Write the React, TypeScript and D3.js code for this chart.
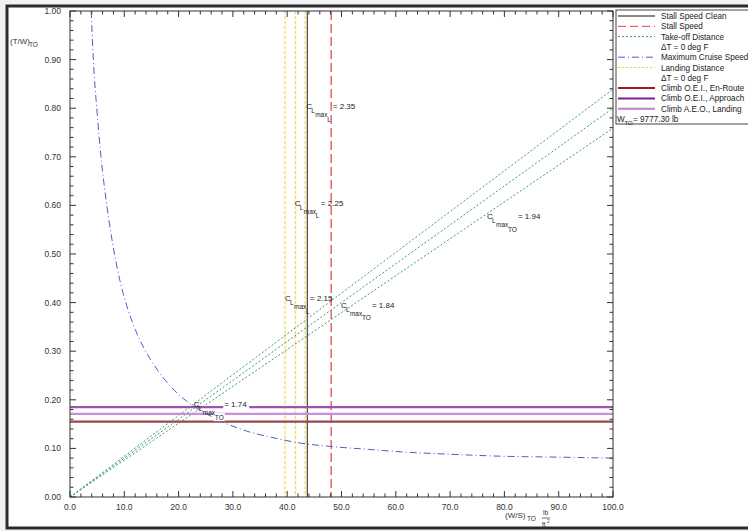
import React from "react";
import * as d3 from "d3";

const W = 748;
const H = 531;

const xTickValues = [0, 10, 20, 30, 40, 50, 60, 70, 80, 90, 100];
const yTickValues = [0, 0.1, 0.2, 0.3, 0.4, 0.5, 0.6, 0.7, 0.8, 0.9, 1.0];

const stallSpeedClean = 43.7;
const stallSpeed = 48.1;
const landingDistance = [39.6, 41.5, 43.3];
// take-off distance lines: T/W at W/S = 100 (lines start at origin)
const takeoffEndWS = 100;
const takeoffEndTW = [0.839, 0.8, 0.759];

const cruiseWS = [3.9, 4.3, 5.0, 5.8, 6.6, 7.8, 9.2, 10.5, 12.0, 14.7, 17.0, 19.9, 22.1, 25.0, 28.0, 33.0, 37.0, 42.4, 48.0, 55.0, 60.8, 70.0, 79.2, 90.0, 100.0];
const cruiseTW = [1.0, 0.9, 0.79, 0.69, 0.615, 0.525, 0.445, 0.392, 0.345, 0.285, 0.248, 0.212, 0.192, 0.172, 0.155, 0.134, 0.123, 0.111, 0.104, 0.098, 0.093, 0.088, 0.084, 0.082, 0.08];

const climbNames = ["Climb O.E.I., En-Route", "Climb O.E.I., Approach", "Climb A.E.O., Landing"];
const climbValues = [0.155, 0.185, 0.171];
const climbColors = ["#984848", "#a050b0", "#c890d8"];
const climbLegendColors = ["#a01c1c", "#7a2288", "#c07ed0"];

// annotation anchors (data coords) and texts
const annX = [43.5, 41.4, 39.6, 49.9, 76.8, 22.8];
const annY = [0.798, 0.599, 0.403, 0.389, 0.572, 0.185];
const annValX = [48.4, 46.2, 44.2, 55.6, 82.5, 28.4];
const annSub = ["L", "L", "L", "TO", "TO", "TO"];
const annVal = ["= 2.35", "= 2.25", "= 2.15", "= 1.84", "= 1.94", "= 1.74"];

const legendLabels = [
  "Stall Speed Clean",
  "Stall Speed",
  "Take-off Distance",
  "\u0394T = 0 deg F",
  "Maximum Cruise Speed",
  "Landing Distance",
  "\u0394T = 0 deg F",
  climbNames[0],
  climbNames[1],
  climbNames[2],
];

const FONT = "Arial, 'Liberation Sans', sans-serif";

export default function App() {
  const x = d3.scaleLinear().domain([0, 100]).range([70, 613]);
  const y = d3.scaleLinear().domain([0, 1]).range([497, 11]);
  const x0 = x(0), x1 = x(100), y0 = y(0), y1 = y(1);

  const xMinor = d3.range(0, 100.001, 2);
  const yMinor = d3.range(0, 1.0001, 0.02);

  const cruisePts: [number, number][] = cruiseWS.map((w, i) => [w, cruiseTW[i]]);
  const cruiseLine = d3
    .line<[number, number]>()
    .x((d) => x(d[0]))
    .y((d) => y(d[1]))
    .curve(d3.curveMonotoneX);

  const axisColor = "#333";
  const textColor = "#333";

  const legendStyles = [
    { stroke: "#111", dash: "", w: 1 },
    { stroke: "#e03a3a", dash: "8,4", w: 1 },
    { stroke: "#3d9a78", dash: "2,2", w: 1 },
    null,
    { stroke: "#4a5ed0", dash: "7,3,1,3", w: 1 },
    { stroke: "#e8d24a", dash: "2,2", w: 1 },
    null,
    { stroke: climbLegendColors[0], dash: "", w: 2 },
    { stroke: climbLegendColors[1], dash: "", w: 2 },
    { stroke: climbLegendColors[2], dash: "", w: 2 },
  ];

  return (
    <svg
      width={W}
      height={H}
      style={{ position: "absolute", left: 0, top: 0, background: "#f2f2f2" }}
      fontFamily={FONT}
    >
      <defs>
        <clipPath id="plotclip">
          <rect x={x0} y={y1} width={x1 - x0} height={y0 - y1} />
        </clipPath>
      </defs>
      {/* outer frame */}
      <rect x={7} y={6} width={W} height={522} fill="#fff" stroke="#2b2b2b" strokeWidth={3} />

      {/* plot content */}
      <g clipPath="url(#plotclip)">
        {/* landing distance verticals */}
        {landingDistance.map((v, i) => (
          <g key={"ld" + i}>
            <line x1={x(v)} x2={x(v)} y1={y1} y2={y0} stroke="#fdfaea" strokeWidth={3} />
            <line x1={x(v)} x2={x(v)} y1={y1} y2={y0} stroke="#ecd860" strokeWidth={1} strokeDasharray="3,2" />
          </g>
        ))}
        {/* stall speed clean */}
        <line x1={x(stallSpeedClean)} x2={x(stallSpeedClean)} y1={y1} y2={y0} stroke="#222" strokeWidth={1} />
        {/* stall speed */}
        <line x1={x(stallSpeed)} x2={x(stallSpeed)} y1={y1} y2={y0} stroke="#e86464" strokeWidth={1.5} strokeDasharray="9,4" />

        {/* take-off distance lines */}
        {takeoffEndTW.map((t, i) => (
          <line
            key={"to" + i}
            x1={x(0)}
            y1={y(0)}
            x2={x(takeoffEndWS)}
            y2={y(t)}
            stroke="#3d9a78"
            strokeWidth={1}
            strokeDasharray="2,2"
          />
        ))}

        {/* climb lines */}
        {climbValues.map((v, i) => (
          <line key={"cl" + i} x1={x0} x2={x1} y1={y(v)} y2={y(v)} stroke={climbColors[i]} strokeWidth={2.2} />
        ))}

        {/* cruise curve */}
        <path d={cruiseLine(cruisePts) || ""} fill="none" stroke="#4a5ed0" strokeWidth={1} strokeDasharray="7,3,1,3" />
      </g>

      {/* annotations */}
      {annX.map((ax, i) => {
        const px = x(ax);
        const py = y(annY[i]);
        const vx = x(annValX[i]);
        return (
          <g key={"ann" + i} fill="#222">
            {i === 5 && (
              <>
                <rect x={vx - 1} y={py - 8} width={26} height={10} fill="#fff" />
                <rect x={px + 20} y={py + 6} width={11} height={8} fill="#fff" />
              </>
            )}
            <text x={px} y={py} fontSize={8}>C</text>
            <text x={px + 5} y={py + 4} fontSize={6.5}>L</text>
            <text x={px + 9} y={py + 8} fontSize={6.5}>max</text>
            <text x={px + 21} y={py + 12.5} fontSize={6.5}>{annSub[i]}</text>
            <text x={vx} y={py} fontSize={8}>{annVal[i]}</text>
          </g>
        );
      })}

      {/* axes frame */}
      <rect x={x0} y={y1} width={x1 - x0} height={y0 - y1} fill="none" stroke={axisColor} strokeWidth={1} />

      {/* x ticks bottom & top */}
      {xMinor.map((v, i) => {
        const major = Math.abs(v % 10) < 1e-6;
        const len = major ? 6 : 3.5;
        return (
          <g key={"xt" + i} stroke={axisColor}>
            <line x1={x(v)} x2={x(v)} y1={y0} y2={y0 - len} />
            <line x1={x(v)} x2={x(v)} y1={y1} y2={y1 + len} />
          </g>
        );
      })}
      {/* y ticks left & right */}
      {yMinor.map((v, i) => {
        const major = Math.abs(Math.round(v * 50) % 5) === 0;
        const len = major ? 6 : 3.5;
        return (
          <g key={"yt" + i} stroke={axisColor}>
            <line x1={x0} x2={x0 + len} y1={y(v)} y2={y(v)} />
            <line x1={x1} x2={x1 - len} y1={y(v)} y2={y(v)} />
          </g>
        );
      })}

      {/* tick labels */}
      {xTickValues.map((v) => (
        <text key={"xl" + v} x={x(v)} y={y0 + 12.5} fontSize={8.5} textAnchor="middle" fill={textColor}>
          {v.toFixed(1)}
        </text>
      ))}
      {yTickValues.map((v) => (
        <text key={"yl" + v} x={61} y={y(v) + 3} fontSize={8.5} textAnchor="end" fill={textColor}>
          {v.toFixed(2)}
        </text>
      ))}

      {/* axis titles */}
      <text x={10} y={44} fontSize={8} fill={textColor}>
        (T/W)
      </text>
      <text x={29} y={47} fontSize={6.5} fill={textColor}>
        TO
      </text>
      <text x={505} y={518} fontSize={8} fill={textColor}>
        (W/S)
      </text>
      <text x={527} y={521} fontSize={6.5} fill={textColor}>
        TO
      </text>
      <text x={543} y={515} fontSize={6.5} fill={textColor}>
        lb
      </text>
      <line x1={542} x2={550} y1={518} y2={518} stroke={textColor} strokeWidth={0.7} />
      <text x={542} y={526.5} fontSize={6.5} fill={textColor}>
        ft
      </text>
      <text x={547} y={523} fontSize={4.5} fill={textColor}>
        2
      </text>

      {/* legend */}
      <rect x={616} y={10} width={140} height={114} fill="#fff" stroke="#444" strokeWidth={1} />
      {legendLabels.map((lab, i) => {
        const cy = 16 + i * 10.3;
        const st = legendStyles[i];
        return (
          <g key={"lg" + i}>
            {st && (
              <line
                x1={618}
                x2={655}
                y1={cy}
                y2={cy}
                stroke={st.stroke}
                strokeWidth={st.w}
                strokeDasharray={st.dash || undefined}
              />
            )}
            <text x={661} y={cy + 3} fontSize={8.2} fill="#222">
              {lab}
            </text>
          </g>
        );
      })}
      <text x={617} y={122} fontSize={8.2} fill="#222">
        W
      </text>
      <text x={624.5} y={124.5} fontSize={6} fill="#222">
        TO
      </text>
      <text x={633} y={122} fontSize={8.2} fill="#222">
        = 9777.30 lb
      </text>
    </svg>
  );
}
